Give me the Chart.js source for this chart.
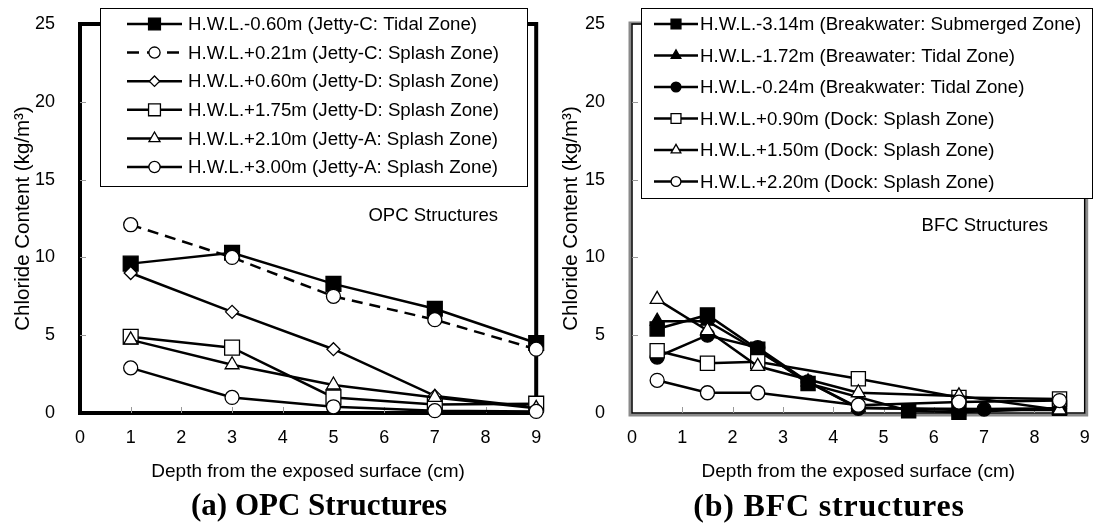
<!DOCTYPE html>
<html>
<head>
<meta charset="utf-8">
<script src="https://cdn.jsdelivr.net/npm/chart.js@4.4.1/dist/chart.umd.min.js"></script>
<style>
  body { margin: 0; background: #fff; width: 1096px; height: 527px; position: relative; overflow: hidden; }
  .panel { position: absolute; top: 0; width: 548px; height: 527px; }
  .caption { position: absolute; top: 487px; width: 400px; text-align: center; line-height: 36px;
             font: bold 31px "Liberation Serif", "Times New Roman", serif; color: #000; }
</style>
</head>
<body>
<div class="panel" style="left:0"><canvas id="opcChart" width="548" height="527"></canvas></div>
<div class="panel" style="left:548px"><canvas id="bfcChart" width="548" height="527"></canvas></div>
<div class="caption" style="left:119px">(a) OPC Structures</div>
<div class="caption" style="left:629px; font-size:32px; letter-spacing:0.8px">(b) BFC structures</div>

<script>
// ---- datos OPC (profundidad en cm, cloruros en kg/m3)
const opcDepth = [1, 3, 5, 7, 9];
const opcJettyC_m060 = [9.6, 10.3, 8.3, 6.7, 4.5];
const opcJettyC_p021 = [12.1, 10.0, 7.5, 6.0, 4.1];
const opcJettyD_p060 = [9.0, 6.5, 4.1, 1.1, 0.35];
const opcJettyD_p175 = [4.9, 4.2, 1.0, 0.55, 0.6];
const opcJettyA_p210 = [4.7, 3.1, 1.8, 1.0, 0.3];
const opcJettyA_p300 = [2.9, 1.0, 0.4, 0.15, 0.1];

// ---- datos BFC
const bwSubmergedDepth = [0.5, 1.5, 2.5, 3.5, 5.5, 6.5, 8.5];
const bwSubmerged_m314 = [5.4, 6.3, 4.1, 1.9, 0.15, 0.05, 0.3];
const bwTidalDepthA = [0.5, 1.5, 2.5, 3.5, 4.5, 6.5, 8.5];
const bwTidal_m172 = [5.9, 5.9, 4.0, 2.0, 0.35, 0.2, 0.2];
const bwTidalDepthB = [0.5, 1.5, 2.5, 3.5, 4.5, 7, 8.5];
const bwTidal_m024 = [3.6, 5.0, 4.2, 2.0, 0.3, 0.25, 0.3];
const dockDepth = [0.5, 1.5, 2.5, 4.5, 6.5, 8.5];
const dock_p090 = [4.0, 3.2, 3.3, 2.2, 1.0, 0.9];
const dock_p150 = [7.3, 5.3, 3.0, 1.3, 1.1, 0.2];
const dock_p220 = [2.1, 1.3, 1.3, 0.5, 0.7, 0.8];

const opcLabels = [
  'H.W.L.-0.60m (Jetty-C: Tidal Zone)',
  'H.W.L.+0.21m (Jetty-C: Splash Zone)',
  'H.W.L.+0.60m (Jetty-D: Splash Zone)',
  'H.W.L.+1.75m (Jetty-D: Splash Zone)',
  'H.W.L.+2.10m (Jetty-A: Splash Zone)',
  'H.W.L.+3.00m (Jetty-A: Splash Zone)'
];
const bfcLabels = [
  'H.W.L.-3.14m (Breakwater: Submerged Zone)',
  'H.W.L.-1.72m (Breawater: Tidal Zone)',
  'H.W.L.-0.24m (Breakwater: Tidal Zone)',
  'H.W.L.+0.90m (Dock: Splash Zone)',
  'H.W.L.+1.50m (Dock: Splash Zone)',
  'H.W.L.+2.20m (Dock: Splash Zone)'
];
const xTicks = [0, 1, 2, 3, 4, 5, 6, 7, 8, 9];
const yTicks = [0, 5, 10, 15, 20, 25];

const FONT = 'Arial, "Liberation Sans", sans-serif';

function puntos(xs, ys) {
  return xs.map((x, i) => ({ x: x, y: ys[i] }));
}

// estilo de serie: forma, relleno, tamaño, linea discontinua
function serie(label, data, idx, shape, filled, radius, dash) {
  return {
    label: label,
    data: data,
    order: -idx,
    borderColor: '#000',
    borderWidth: 2.5,
    borderDash: dash || [],
    pointStyle: shape,
    pointRadius: radius,
    pointHoverRadius: radius,
    pointBackgroundColor: filled ? '#000' : '#fff',
    pointBorderColor: '#000',
    pointBorderWidth: 1.3,
    tension: 0,
    clip: false
  };
}

// sin relleno extra de las etiquetas, para que el area quede fija
function sinPadding(s) {
  s.paddingTop = 0; s.paddingBottom = 0; s.paddingLeft = 0; s.paddingRight = 0;
}

// marco del grafico y marcas de ticks interiores
const framePlugin = {
  id: 'frame',
  beforeDatasetsDraw(chart, args, opts) {
    const { ctx, chartArea: a, scales } = chart;
    ctx.save();
    if (opts.gray) {
      ctx.strokeStyle = '#8a8a8a';
      ctx.lineWidth = 3;
      ctx.strokeRect(a.left - 2, a.top - 1, a.right - a.left + 4, a.bottom - a.top + 3);
      ctx.strokeStyle = '#000';
      ctx.lineWidth = 1.5;
      ctx.strokeRect(a.left, a.top, a.right - a.left, a.bottom - a.top);
    } else {
      ctx.strokeStyle = '#000';
      ctx.lineWidth = 4;
      ctx.strokeRect(a.left, a.top, a.right - a.left, a.bottom - a.top);
    }
    ctx.strokeStyle = '#999';
    ctx.lineWidth = 1;
    ctx.beginPath();
    yTicks.slice(1, -1).forEach(v => {
      const y = Math.round(scales.y.getPixelForValue(v)) + 0.5;
      ctx.moveTo(a.left, y); ctx.lineTo(a.left + 6, y);
    });
    xTicks.slice(1, -1).forEach(v => {
      const x = Math.round(scales.x.getPixelForValue(v)) + 0.5;
      ctx.moveTo(x, a.bottom); ctx.lineTo(x, a.bottom - 6);
    });
    ctx.stroke();
    ctx.restore();
  }
};

// leyenda con caja dentro del area + texto de estructura
const boxLegendPlugin = {
  id: 'boxLegend',
  afterDraw(chart, args, o) {
    const ctx = chart.ctx;
    ctx.save();
    ctx.fillStyle = '#fff';
    ctx.fillRect(o.x, o.y, o.w, o.h);
    ctx.strokeStyle = '#000';
    ctx.lineWidth = 1;
    ctx.strokeRect(o.x + 0.5, o.y + 0.5, o.w, o.h);
    chart.data.datasets.forEach((ds, i) => {
      const y = o.row0 + i * o.rowGap;
      ctx.strokeStyle = '#000';
      ctx.lineWidth = 2.5;
      ctx.setLineDash(ds.borderDash.length ? [12, 8] : []);
      ctx.beginPath();
      ctx.moveTo(o.lineX0, y); ctx.lineTo(o.lineX1, y);
      ctx.stroke();
      ctx.setLineDash([]);
      ctx.fillStyle = ds.pointBackgroundColor;
      ctx.lineWidth = 1.3;
      Chart.helpers.drawPoint(ctx, {
        pointStyle: ds.pointStyle, radius: ds.pointRadius * o.markScale, rotation: 0, borderWidth: 1.3
      }, (o.lineX0 + o.lineX1) / 2, y);
      ctx.fillStyle = '#000';
      ctx.font = '18.7px ' + FONT;
      ctx.textBaseline = 'middle';
      ctx.textAlign = 'left';
      ctx.fillText(ds.label, o.textX, y + 1);
    });
    ctx.font = '18.5px ' + FONT;
    ctx.textAlign = 'right';
    ctx.fillText(o.note, o.noteX, o.noteY);
    ctx.restore();
  }
};

function opciones(yLeft, yPad, legend, gray) {
  return {
    responsive: false,
    animation: false,
    events: [],
    layout: { padding: { left: 0, top: 24, right: 9, bottom: 34 } },
    scales: {
      x: {
        type: 'linear', min: 0, max: 9,
        afterBuildTicks: s => { s.ticks = xTicks.map(v => ({ value: v })); },
        ticks: { padding: 14, color: '#000', font: { family: FONT, size: 18 } },
        grid: { display: false, drawTicks: false },
        border: { display: false },
        title: { display: true, text: 'Depth from the exposed surface (cm)', color: '#000',
                 font: { family: FONT, size: 19 }, padding: { top: 0, bottom: 10 } },
        afterFit: s => { s.height = 80; sinPadding(s); }
      },
      y: {
        type: 'linear', min: 0, max: 25,
        afterBuildTicks: s => { s.ticks = yTicks.map(v => ({ value: v })); },
        ticks: { padding: yPad, color: '#000', font: { family: FONT, size: 18 } },
        grid: { display: false, drawTicks: false },
        border: { display: false },
        title: { display: true, text: 'Chloride Content (kg/m³)', color: '#000',
                 font: { family: FONT, size: 20.5 }, padding: { top: 11, bottom: 0 } },
        afterFit: s => { s.width = yLeft; sinPadding(s); }
      }
    },
    plugins: {
      legend: { display: false },
      tooltip: { enabled: false },
      frame: { gray: gray },
      boxLegend: legend
    }
  };
}

new Chart(document.getElementById('opcChart'), {
  type: 'line',
  data: {
    datasets: [
      serie(opcLabels[0], puntos(opcDepth, opcJettyC_m060), 0, 'rect', true, 10.5),
      serie(opcLabels[1], puntos(opcDepth, opcJettyC_p021), 1, 'circle', false, 7, [11, 7]),
      serie(opcLabels[2], puntos(opcDepth, opcJettyD_p060), 2, 'rectRot', false, 6.5),
      serie(opcLabels[3], puntos(opcDepth, opcJettyD_p175), 3, 'rect', false, 10.5),
      serie(opcLabels[4], puntos(opcDepth, opcJettyA_p210), 4, 'triangle', false, 8),
      serie(opcLabels[5], puntos(opcDepth, opcJettyA_p300), 5, 'circle', false, 7)
    ]
  },
  options: opciones(80, 25, {
    x: 100, y: 8, w: 427, h: 178, row0: 24, rowGap: 28.6,
    lineX0: 127, lineX1: 182, textX: 188, markScale: 0.8,
    note: 'OPC Structures', noteX: 498, noteY: 216
  }, false),
  plugins: [framePlugin, boxLegendPlugin]
});

new Chart(document.getElementById('bfcChart'), {
  type: 'line',
  data: {
    datasets: [
      serie(bfcLabels[0], puntos(bwSubmergedDepth, bwSubmerged_m314), 0, 'rect', true, 10),
      serie(bfcLabels[1], puntos(bwTidalDepthA, bwTidal_m172), 1, 'triangle', true, 8),
      serie(bfcLabels[2], puntos(bwTidalDepthB, bwTidal_m024), 2, 'circle', true, 7),
      serie(bfcLabels[3], puntos(dockDepth, dock_p090), 3, 'rect', false, 10),
      serie(bfcLabels[4], puntos(dockDepth, dock_p150), 4, 'triangle', false, 8),
      serie(bfcLabels[5], puntos(dockDepth, dock_p220), 5, 'circle', false, 7)
    ]
  },
  options: opciones(84, 27, {
    x: 93, y: 8, w: 451, h: 190, row0: 24, rowGap: 31.5,
    lineX0: 106, lineX1: 150, textX: 152, markScale: 0.7,
    note: 'BFC Structures', noteX: 500, noteY: 226
  }, true),
  plugins: [framePlugin, boxLegendPlugin]
});
</script>
</body>
</html>
